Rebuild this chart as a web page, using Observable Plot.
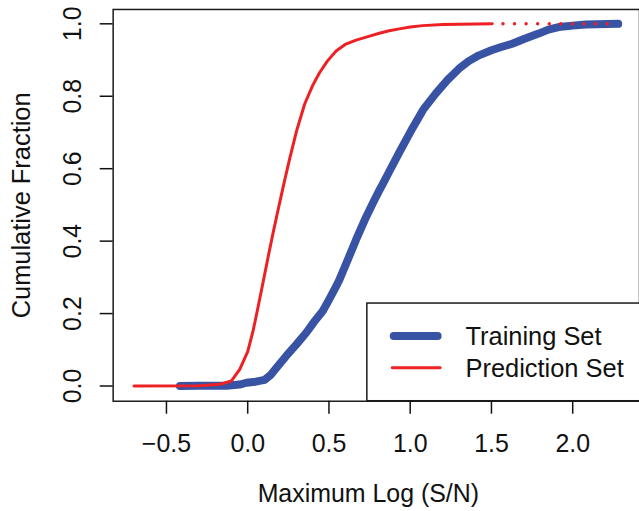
<!DOCTYPE html>
<html><head><meta charset="utf-8">
<script src="https://cdn.jsdelivr.net/npm/d3@7"></script>
<script src="https://cdn.jsdelivr.net/npm/@observablehq/plot@0.6"></script>
<style>
html,body{margin:0;padding:0;background:#fff;overflow:hidden;width:639px;height:511px}
#chart{position:relative;width:639px;height:511px;overflow:hidden}
</style></head><body><div id="chart"></div>
<script>
// Training Set cumulative distribution
const trainX = [-0.417, -0.30, -0.13, -0.05, -0.008, 0.05, 0.104, 0.14, 0.176, 0.237, 0.30, 0.36, 0.41, 0.462, 0.50, 0.544, 0.564, 0.605, 0.646, 0.667, 0.728, 0.779, 0.81, 0.83, 0.872, 0.912, 0.933, 1.014, 1.08, 1.158, 1.23, 1.30, 1.36, 1.423, 1.50, 1.56, 1.628, 1.70, 1.79, 1.85, 1.914, 2.00, 2.08, 2.28];
const trainY = [0, 0.0005, 0.001, 0.004, 0.009, 0.012, 0.017, 0.030, 0.050, 0.083, 0.115, 0.147, 0.178, 0.207, 0.238, 0.275, 0.293, 0.337, 0.381, 0.404, 0.466, 0.513, 0.540, 0.557, 0.593, 0.627, 0.645, 0.712, 0.763, 0.808, 0.845, 0.876, 0.897, 0.913, 0.927, 0.936, 0.945, 0.958, 0.973, 0.984, 0.991, 0.995, 0.998, 1.0];
// Prediction Set cumulative distribution
const predX = [-0.70, -0.30, -0.17, -0.10, -0.049, 0.00, 0.033, 0.06, 0.094, 0.125, 0.155, 0.18, 0.207, 0.23, 0.258, 0.30, 0.35, 0.40, 0.442, 0.49, 0.544, 0.60, 0.667, 0.75, 0.81, 0.87, 0.933, 1.00, 1.076, 1.20, 1.30, 1.505];
const predY = [0, 0.001, 0.005, 0.014, 0.046, 0.095, 0.152, 0.210, 0.285, 0.355, 0.420, 0.472, 0.527, 0.573, 0.627, 0.703, 0.778, 0.830, 0.865, 0.897, 0.925, 0.943, 0.955, 0.966, 0.974, 0.981, 0.986, 0.991, 0.995, 0.998, 0.999, 1.0];
// dotted extension of the Prediction Set
const predTailX = [1.571, 2.282];
const predTailY = [1, 1];

const xTicks = [-0.5, 0, 0.5, 1, 1.5, 2];
const yTicks = [0, 0.2, 0.4, 0.6, 0.8, 1];
const seriesNames = ["Training Set", "Prediction Set"];
const colors = ["#3953a4", "#ed2024"];
const xLabel = "Maximum Log (S/N)";
const yLabel = "Cumulative Fraction";

const train = trainX.map((x, i) => ({x, y: trainY[i]}));
const pred = predX.map((x, i) => ({x, y: predY[i]}));
const predTail = predTailX.map((x, i) => ({x, y: predTailY[i]}));

const fmt = d => d.toFixed(1).replace("-", "\u2212");
const font = "'Liberation Sans', Arial, Helvetica, sans-serif";

const plot = Plot.plot({
  width: 641, height: 511,
  marginLeft: 113, marginRight: 0, marginTop: 9, marginBottom: 109,
  style: {fontFamily: font, fontSize: "25px", color: "#111", background: "white", overflow: "visible"},
  x: {domain: [-0.828, 2.411]},
  y: {domain: [-0.042, 1.0396]},
  marks: [
    Plot.line(train, {x: "x", y: "y", stroke: colors[0], strokeWidth: 8, strokeLinecap: "round", strokeLinejoin: "round"}),
    Plot.line(pred, {x: "x", y: "y", stroke: colors[1], strokeWidth: 3, strokeLinecap: "round", strokeLinejoin: "round"}),
    Plot.line(predTail, {x: "x", y: "y", stroke: colors[1], strokeWidth: 3.5, strokeLinecap: "round", strokeDasharray: "0 11.6"}),
    Plot.frame({stroke: "#1a1a1a", strokeWidth: 1.5}),
    Plot.axisX(xTicks, {tickSize: 13, tickPadding: 20, tickFormat: fmt, fontSize: 25, strokeWidth: 1.5, label: null}),
    Plot.axisY(yTicks, {tickSize: 13, tickFormat: () => "", strokeWidth: 1.5, label: null}),
    Plot.text(yTicks, {y: d => d, text: fmt, frameAnchor: "left", dx: -40, rotate: -90, textAnchor: "middle", lineAnchor: "middle", fontSize: 25}),
    Plot.text([xLabel], {text: d => d, frameAnchor: "bottom", dy: 93, dx: -8, textAnchor: "middle", lineAnchor: "middle", fontSize: 25}),
    Plot.text([yLabel], {text: d => d, frameAnchor: "left", dx: -92, rotate: -90, textAnchor: "middle", lineAnchor: "middle", fontSize: 25.5})
  ]
});

// legend (bottom-right, inside the plot box)
const svg = d3.select(plot);
const lg = svg.append("g").attr("font-family", font).attr("font-size", 25.5).attr("fill", "#111").attr("text-anchor", "start");
lg.append("rect").attr("x", 368).attr("y", 304).attr("width", 300).attr("height", 98)
  .attr("fill", "white").attr("stroke", "#1a1a1a").attr("stroke-width", 1.5);
const rows = [{y: 337, w: 8, x1: 395, x2: 439, base: 346.5}, {y: 369, w: 3, x1: 393.5, x2: 441.5, base: 378.3}];
seriesNames.forEach((name, i) => {
  const r = rows[i];
  lg.append("line").attr("x1", r.x1).attr("x2", r.x2).attr("y1", r.y).attr("y2", r.y)
    .attr("stroke", colors[i]).attr("stroke-width", r.w).attr("stroke-linecap", "round");
  lg.append("text").attr("x", 467).attr("y", r.base).attr("text-anchor", "start").text(name);
});

document.getElementById("chart").appendChild(plot);
</script></body></html>
